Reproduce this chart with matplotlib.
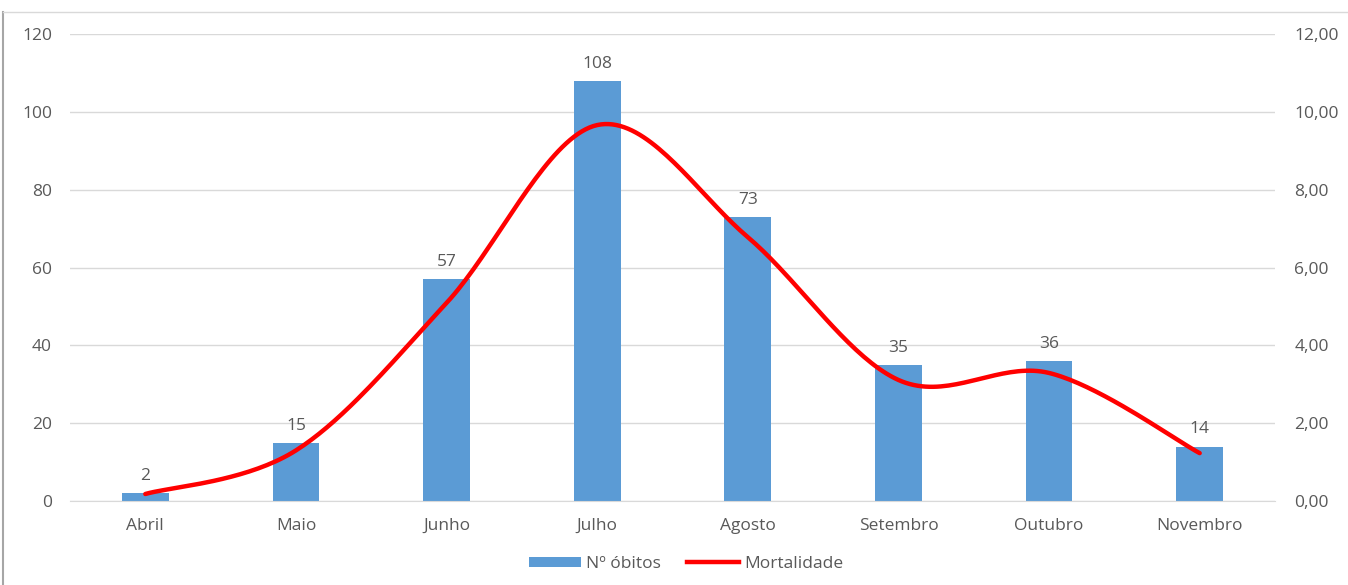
import numpy as np
import matplotlib
matplotlib.use("Agg")
import matplotlib.pyplot as plt
from matplotlib.lines import Line2D

months = ["Abril", "Maio", "Junho", "Julho", "Agosto", "Setembro", "Outubro", "Novembro"]
obitos = [2, 15, 57, 108, 73, 35, 36, 14]
mortalidade = [0.18, 1.30, 5.09, 9.66, 6.78, 3.11, 3.29, 1.23]
left_ticks = [0, 20, 40, 60, 80, 100, 120]
right_ticks = [0, 2, 4, 6, 8, 10, 12]

plt.rcParams['font.family'] = ['Open Sans', 'DejaVu Sans']
TXT = '#595959'
BAR = '#5B9BD5'
GRID = '#D9D9D9'
FS = 12.5


def catmull_rom(xs, ys, n=40):
    xs = np.asarray(xs, float)
    ys = np.asarray(ys, float)
    px = np.concatenate([[xs[0]], xs, [xs[-1]]])
    py = np.concatenate([[ys[0]], ys, [ys[-1]]])
    outx, outy = [], []
    t = np.linspace(0, 1, n)
    for i in range(1, len(px) - 2):
        p0 = np.array([px[i - 1], py[i - 1]])
        p1 = np.array([px[i], py[i]])
        p2 = np.array([px[i + 1], py[i + 1]])
        p3 = np.array([px[i + 2], py[i + 2]])
        c1 = p1 + (p2 - p0) / 6
        c2 = p2 - (p3 - p1) / 6
        b = ((1 - t) ** 3)[:, None] * p1 + (3 * (1 - t) ** 2 * t)[:, None] * c1 \
            + (3 * (1 - t) * t ** 2)[:, None] * c2 + (t ** 3)[:, None] * p2
        outx.extend(b[:, 0])
        outy.extend(b[:, 1])
    return np.array(outx), np.array(outy)


fig = plt.figure(figsize=(13.48, 5.85), dpi=100)
ax = fig.add_axes([70 / 1348, 1 - 501 / 585, (1275 - 70) / 1348, (501 - 34) / 585])
x = np.arange(len(months))
bars = ax.bar(x, obitos, width=0.31, color=BAR, zorder=2, label='Nº óbitos')
for xi, v in zip(x, obitos):
    ax.annotate(str(v), (xi, v), xytext=(0, 6.5), textcoords='offset points',
                ha='center', va='bottom', fontsize=FS, color=TXT)
ax.set_xlim(-0.5, len(months) - 0.5)
ax.set_ylim(0, 120)
ax.set_yticks(left_ticks)
ax.set_xticks(x)
ax.set_xticklabels(months)
ax.tick_params(axis='both', length=0, colors=TXT, labelsize=FS)
ax.tick_params(axis='y', pad=13)
ax.tick_params(axis='x', pad=12)
ax.grid(axis='y', color=GRID, linewidth=1, zorder=0)
ax.set_axisbelow(True)
for s in ['top', 'right', 'left']:
    ax.spines[s].set_visible(False)
ax.spines['bottom'].set_color(GRID)

ax2 = ax.twinx()
sx, sy = catmull_rom(x, mortalidade)
ax2.plot(sx, sy, color='#FF0000', linewidth=3.2, solid_capstyle='round', zorder=3, label='Mortalidade')
ax2.set_ylim(0, 12)
ax2.set_yticks(right_ticks)
ax2.set_yticklabels([f"{v:.2f}".replace('.', ',') for v in right_ticks])
ax2.tick_params(axis='y', length=0, colors=TXT, labelsize=FS, pad=14)
for s in ax2.spines.values():
    s.set_visible(False)

handles = [bars, Line2D([0], [0], color='#FF0000', linewidth=3.2)]
fig.legend(handles, ['Nº óbitos', 'Mortalidade'], loc='center', bbox_to_anchor=(686 / 1348, 1 - 564 / 585),
           ncol=2, frameon=False, fontsize=FS, labelcolor=TXT, handlelength=3.0, handleheight=0.5,
           columnspacing=1.5, handletextpad=0.3)

fig.add_artist(Line2D([3 / 1348, 3 / 1348], [0, 1 - 12 / 585], color='#A6A6A6', linewidth=1.5,
                      transform=fig.transFigure))
fig.add_artist(Line2D([3 / 1348, 1], [1 - 12 / 585, 1 - 12 / 585], color='#D9D9D9', linewidth=1,
                      transform=fig.transFigure))

fig.savefig('out.png', dpi=100)
